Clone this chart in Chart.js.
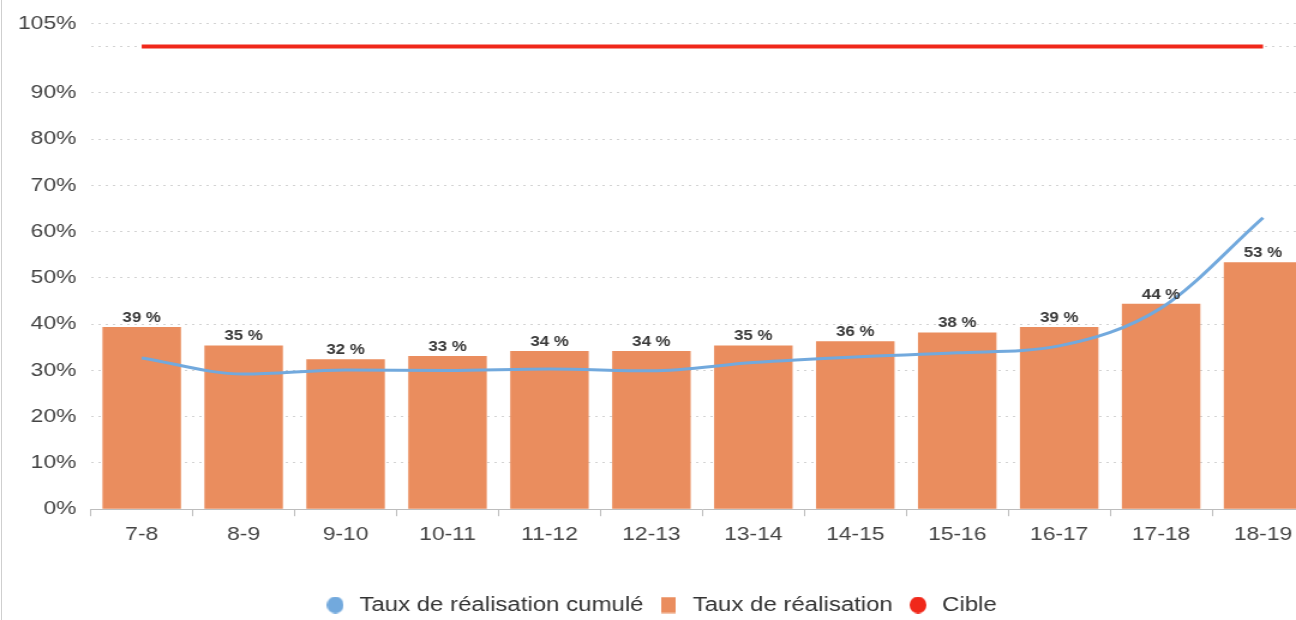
<!DOCTYPE html>
<html>
<head>
<meta charset="utf-8">
<script src="https://cdn.jsdelivr.net/npm/chart.js@4/dist/chart.umd.min.js"></script>
<style>
    html, body { margin: 0; padding: 0; background: #fff; overflow: hidden; }
    /* the chart is drawn narrow and stretched sideways, like the exported report image */
    #wrap { position: absolute; left: 0; top: 0; width: 1097px; height: 620px; transform: scaleX(1.2); transform-origin: 0 0; }
    #frame { position: absolute; left: 1px; top: 0; width: 1px; height: 620px; background: #cfcfcf; }
</style>
</head>
<body>
<div id="wrap"><canvas id="rateChart"></canvas></div>
<div id="frame"></div>
<script>
// Tranches horaires
const slots = ["7-8", "8-9", "9-10", "10-11", "11-12", "12-13", "13-14", "14-15", "15-16", "16-17", "17-18", "18-19"];
// Taux de réalisation par tranche (%)
const rateValues = [39.4, 35.4, 32.4, 33.1, 34.2, 34.2, 35.4, 36.3, 38.2, 39.4, 44.4, 53.4];
// Taux de réalisation cumulé (%)
const cumulValues = [32.7, 29.2, 30.1, 30.0, 30.3, 29.9, 31.7, 32.9, 33.8, 35.3, 43.5, 63.0];
// Cible (%)
const targetValues = [100, 100, 100, 100, 100, 100, 100, 100, 100, 100, 100, 100];
// Graduations de l'axe vertical
const yTicks = [0, 10, 20, 30, 40, 50, 60, 70, 80, 90, 100, 105];

const fontFamily = "'Liberation Sans', Arial, sans-serif";

// Legend markers, pre-squeezed so they come out round / square after the stretch
function legendMarker(color, shape) {
    let h = 17, w = shape === "circle" ? 14 : 12;
    let c = document.createElement("canvas");
    c.width = w;
    c.height = h;
    let g = c.getContext("2d");
    g.fillStyle = color;
    if (shape === "circle") {
        g.beginPath();
        g.ellipse(w / 2, h / 2, w / 2, h / 2, 0, 0, Math.PI * 2);
        g.fill();
    } else {
        g.fillRect(0, 0.5, w, h - 1);
    }
    return c;
}

// Write the rounded value above every bar
const barLabels = {
    id: "barLabels",
    afterDatasetsDraw(chart) {
        let ctx = chart.ctx;
        let meta = chart.getDatasetMeta(1);
        ctx.save();
        ctx.font = "bold 14px " + fontFamily;
        ctx.fillStyle = "#3a3a3a";
        ctx.textAlign = "center";
        ctx.textBaseline = "bottom";
        meta.data.forEach((bar, i) => {
            ctx.fillText(Math.round(rateValues[i]) + " %", bar.x, bar.y - 2);
        });
        ctx.restore();
    }
};

let ctx = document.getElementById("rateChart").getContext("2d");
let rateChart = new Chart(ctx, {
    type: "bar",
    data: {
        labels: slots,
        datasets: [
            {
                type: "line",
                label: "Taux de réalisation cumulé",
                data: cumulValues,
                borderColor: "#72a9dd",
                backgroundColor: "#72a9dd",
                borderWidth: 3,
                pointRadius: 0,
                pointStyle: legendMarker("#72a9dd", "circle"),
                cubicInterpolationMode: "monotone",
                order: 0
            },
            {
                label: "Taux de réalisation",
                data: rateValues,
                backgroundColor: "#ea8d5e",
                pointStyle: legendMarker("#ea8d5e", "rect"),
                barPercentage: 0.77,
                categoryPercentage: 1.0,
                order: 2
            },
            {
                type: "line",
                label: "Cible",
                data: targetValues,
                borderColor: "#f0281a",
                backgroundColor: "#f0281a",
                borderWidth: 4,
                pointRadius: 0,
                pointStyle: legendMarker("#f0281a", "circle"),
                order: 1
            }
        ]
    },
    options: {
        responsive: true,
        maintainAspectRatio: false,
        animation: false,
        layout: { padding: { left: 3, right: 0, top: 0, bottom: -5 } },
        plugins: {
            legend: {
                position: "bottom",
                labels: {
                    usePointStyle: true,
                    boxWidth: 20,
                    boxHeight: 12,
                    padding: 11,
                    color: "#333",
                    font: { family: fontFamily, size: 20 },
                    sort: (a, b) => a.datasetIndex - b.datasetIndex
                }
            },
            tooltip: { enabled: false }
        },
        scales: {
            x: {
                offset: true,
                grid: {
                    offset: true,
                    display: true,
                    drawOnChartArea: false,
                    drawTicks: true,
                    tickLength: 7,
                    color: "#bdbdbd"
                },
                border: { color: "#bdbdbd" },
                ticks: {
                    color: "#444",
                    padding: 7,
                    font: { family: fontFamily, size: 19 }
                },
                afterFit: axis => { axis.height += 31; }
            },
            y: {
                min: 0,
                max: 105,
                afterBuildTicks: axis => {
                    axis.ticks = yTicks.map(v => ({ value: v }));
                },
                grid: {
                    color: "#d3d3d3",
                    drawTicks: false
                },
                border: { display: false, dash: [2, 4] },
                ticks: {
                    color: "#444",
                    padding: 12,
                    font: { family: fontFamily, size: 19 },
                    callback: v => v === 100 ? "" : v + "%"
                }
            }
        }
    },
    plugins: [barLabels]
});
</script>
</body>
</html>
